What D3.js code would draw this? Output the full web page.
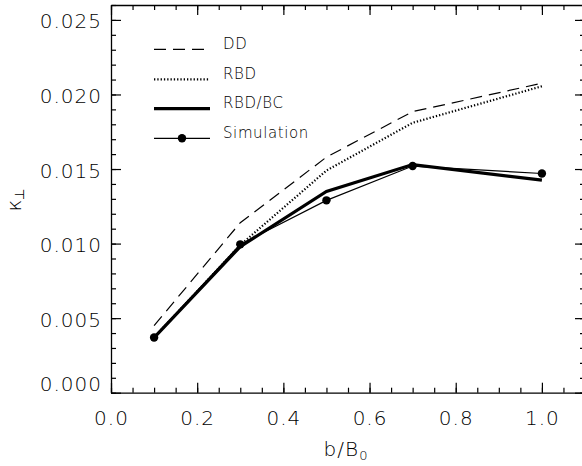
<!DOCTYPE html>
<html>
<head>
<meta charset="utf-8">
<script src="https://cdn.jsdelivr.net/npm/d3@7"></script>
<style>
  body { margin: 0; background: #fff; }
  text { font-family: "DejaVu Sans", sans-serif; font-weight: 200; fill: #000; }
</style>
</head>
<body>
<div id="chart"></div>
<script>
// ---- data ----
const xs        = [0.1, 0.3, 0.5, 0.7, 1.0];
const dd        = [0.0045, 0.0114, 0.0158, 0.01885, 0.02075];
const rbd       = [0.0037, 0.0099, 0.0149, 0.0181, 0.02055];
const rbdbc     = [0.0037, 0.0098, 0.0135, 0.0153, 0.01425];
const sim       = [0.0037, 0.00995, 0.0129, 0.0152, 0.0147];
const xTicks    = [0.0, 0.2, 0.4, 0.6, 0.8, 1.0];
const yTicks    = [0.000, 0.005, 0.010, 0.015, 0.020, 0.025];
const legendNames = ["DD", "RBD", "RBD/BC", "Simulation"];

// ---- layout ----
const W = 582, H = 466;
const M = { left: 111, top: 5 };
const PW = 474, PH = 387.7;

const svg = d3.select("#chart").append("svg")
  .attr("width", W).attr("height", H);

const x = d3.scaleLinear().domain([0, 1.1]).range([M.left, M.left + PW]);
const y = d3.scaleLinear().domain([0, 0.026]).range([M.top + PH, M.top]);

const xMinor = d3.range(0, 1.1001, 0.05);
const yMinor = d3.range(0, 0.02601, 0.001);

// frame + ticks
function axisSet(axisFn, scale, majors, minors, tx, ty, labels) {
  const gMin = svg.append("g").attr("transform", `translate(${tx},${ty})`)
    .call(axisFn(scale).tickValues(minors).tickSize(-5).tickFormat(""));
  gMin.selectAll(".domain").remove();
  const gMaj = svg.append("g").attr("transform", `translate(${tx},${ty})`)
    .call(axisFn(scale).tickValues(majors).tickSize(-10).tickSizeOuter(0)
      .tickPadding(labels ? 9 : 0)
      .tickFormat(labels ? labels : ""));
  svg.selectAll("g .tick line, g .domain").attr("stroke", "#000").attr("stroke-width", 1.2);
  return gMaj;
}

const gx = axisSet(d3.axisBottom, x, xTicks, xMinor, 0, M.top + PH, d3.format(".1f"));
gx.selectAll(".tick text").attr("font-size", 20).attr("letter-spacing", 1)
  .attr("y", 18).attr("dy", "0.71em");
axisSet(d3.axisTop, x, xTicks, xMinor, 0, M.top, null);

const gy = axisSet(d3.axisLeft, y, yTicks, yMinor, M.left, 0, d3.format(".3f"));
gy.selectAll(".tick text").attr("font-size", 20).attr("letter-spacing", 1)
  .attr("dy", d => d === 0 ? "-0.1em" : "0.4em");
axisSet(d3.axisRight, y, yTicks, yMinor, M.left + PW, 0, null);

svg.selectAll(".domain").attr("stroke", "#000").attr("stroke-width", 1.3);

// axis titles
const xt = svg.append("text").attr("x", 346).attr("y", 456)
  .attr("text-anchor", "middle").attr("font-size", 20).attr("letter-spacing", 1);
xt.append("tspan").text("b/B");
xt.append("tspan").attr("font-size", 13).attr("dy", 4).text("0");

const yt = svg.append("text")
  .attr("transform", "translate(21,200) rotate(-90)")
  .attr("text-anchor", "middle").attr("font-size", 20);
yt.append("tspan").text("κ");
yt.append("tspan").attr("font-size", 13).attr("dy", 3).text("⊥");

// series
const line = d3.line().x((d, i) => x(xs[i])).y(d => y(d));
const styles = [
  { data: dd,    width: 1.2, dash: "12,7" },
  { data: rbd,   width: 2.2, dash: "1.3,2" },
  { data: rbdbc, width: 3.2, dash: null },
  { data: sim,   width: 1.2, dash: null }
];

styles.forEach(s => {
  svg.append("path").datum(s.data).attr("d", line)
    .attr("fill", "none").attr("stroke", "#000")
    .attr("stroke-width", s.width)
    .attr("stroke-dasharray", s.dash);
});

svg.append("g").selectAll("circle").data(sim).join("circle")
  .attr("cx", (d, i) => x(xs[i])).attr("cy", d => y(d))
  .attr("r", 4.2).attr("fill", "#000");

// legend
const lgY = [49.3, 79.3, 108.7, 138.3];
const lg = svg.append("g");
styles.forEach((s, i) => {
  lg.append("line").attr("x1", 154).attr("x2", 210)
    .attr("y1", lgY[i]).attr("y2", lgY[i])
    .attr("stroke", "#000").attr("stroke-width", s.width)
    .attr("stroke-dasharray", s.dash);
  lg.append("text").attr("x", 223).attr("y", lgY[i]).attr("dy", "-0.05em")
    .attr("font-size", 15).attr("letter-spacing", 0.6).text(legendNames[i]);
});
lg.append("circle").attr("cx", 182).attr("cy", lgY[3]).attr("r", 4.2).attr("fill", "#000");
</script>
</body>
</html>
